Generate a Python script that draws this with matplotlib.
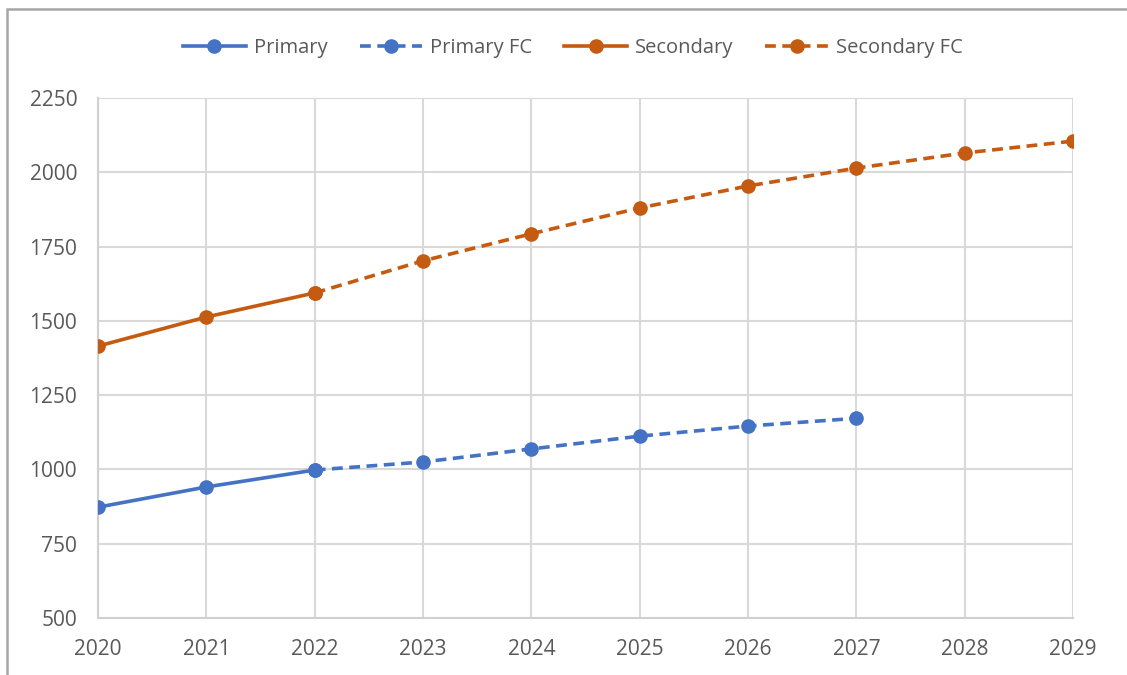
import numpy as np
import matplotlib.pyplot as plt
import matplotlib as mpl
from matplotlib.patches import Rectangle

mpl.rcParams['font.family'] = ['Open Sans', 'DejaVu Sans']
mpl.rcParams['font.size'] = 15

# data
years = [2020, 2021, 2022, 2023, 2024, 2025, 2026, 2027, 2028, 2029]
primary_years = [2020, 2021, 2022]
primary = [873, 941, 998]
primary_fc_years = [2022, 2023, 2024, 2025, 2026, 2027]
primary_fc = [998, 1025, 1069, 1112, 1146, 1172]
secondary_years = [2020, 2021, 2022]
secondary = [1415, 1513, 1594]
secondary_fc_years = [2022, 2023, 2024, 2025, 2026, 2027, 2028, 2029]
secondary_fc = [1594, 1702, 1793, 1880, 1954, 2014, 2065, 2105]
yticks = [500, 750, 1000, 1250, 1500, 1750, 2000, 2250]

blue = '#4472c4'
orange = '#c55a11'
grey_txt = '#595959'

fig = plt.figure(figsize=(11.27, 6.75), dpi=100)
ax = fig.add_axes([98/1127, 57/675, (1073-98)/1127, (618-98)/675])

kw = dict(lw=2.6, marker='o', ms=9.5, zorder=3)
ax.plot(primary_fc_years, primary_fc, color=blue, ls=(0, (3, 1.8)), label='Primary FC', **kw)
ax.plot(secondary_fc_years, secondary_fc, color=orange, ls=(0, (3, 1.8)), label='Secondary FC', **kw)
ax.plot(primary_years, primary, color=blue, ls='-', label='Primary', **kw)
ax.plot(secondary_years, secondary, color=orange, ls='-', label='Secondary', **kw)

ax.set_xlim(2020, 2029)
ax.set_ylim(500, 2250)
ax.set_xticks(years)
ax.set_yticks(yticks)
ax.grid(True, color='#d9d9d9', lw=1.5)
ax.set_axisbelow(True)
for s in ['top', 'right']:
    ax.spines[s].set_visible(False)
for s in ['left', 'bottom']:
    ax.spines[s].set_color('#d0d0d0')
    ax.spines[s].set_linewidth(1.5)
ax.tick_params(length=0, colors=grey_txt, labelsize=15)
ax.tick_params(axis='y', pad=15)
ax.tick_params(axis='x', pad=15)
for lbl in ax.get_xticklabels() + ax.get_yticklabels():
    lbl.set_clip_on(False)

h, l = ax.get_legend_handles_labels()
order = [2, 0, 3, 1]
fig.legend([h[i] for i in order], [l[i] for i in order], ncol=4, frameon=False,
           loc='center', bbox_to_anchor=(573/1127, 1 - 48/675), handlelength=3.1,
           columnspacing=1.6, handletextpad=0.4, labelcolor=grey_txt, fontsize=14.5)

# outer chart border
fig.patches.append(Rectangle((7/1127, -0.01), 1.1, 1 - 9/675 + 0.01, transform=fig.transFigure,
                             fill=False, ec='#a6a6a6', lw=1.8))

fig.savefig('out.png', dpi=100)
